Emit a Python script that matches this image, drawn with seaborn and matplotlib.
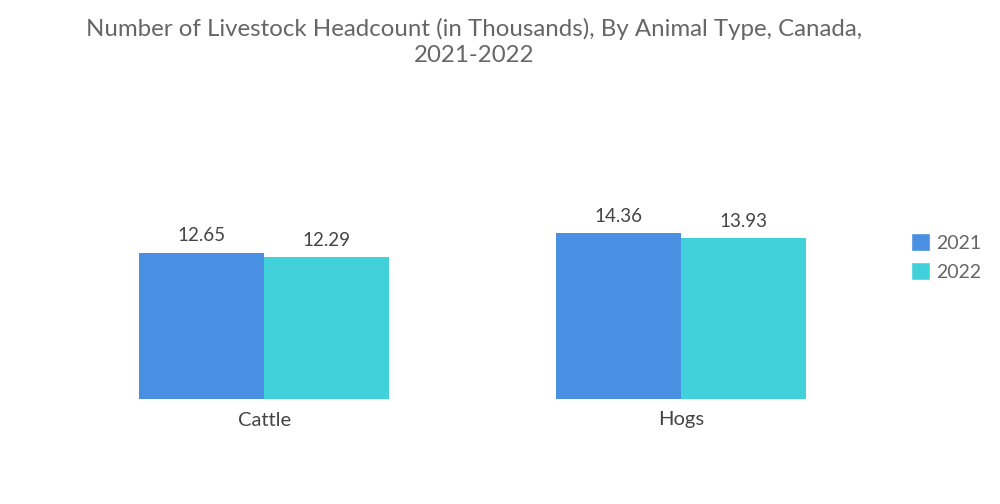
import matplotlib
matplotlib.use("Agg")
import matplotlib.pyplot as plt
import seaborn as sns
import pandas as pd
from matplotlib.patches import Patch

categories = ["Cattle", "Hogs"]
years = ["2021", "2022"]
values_2021 = [12.65, 14.36]
values_2022 = [12.29, 13.93]
colors = ["#4A90E2", "#40D1DA"]

df = pd.DataFrame({
    "Animal": categories * 2,
    "Year": [years[0]] * 2 + [years[1]] * 2,
    "Value": values_2021 + values_2022,
})

sns.set_theme(style="white")
plt.rcParams["font.family"] = ["Lato", "DejaVu Sans"]

fig = plt.figure(figsize=(10, 5.04), dpi=100)
ax = fig.add_axes([0.056, 1 - 399 / 504, 0.833, (399 - 110) / 504])
sns.barplot(data=df, x="Animal", y="Value", hue="Year", palette=colors,
            width=0.6, ax=ax, legend=False, saturation=1, linewidth=0)
ax.set_xlim(-0.5, 1.5)
ax.set_ylim(0, 25.0)
for c in ax.containers:
    ax.bar_label(c, labels=[f"{v:.2f}" for v in c.datavalues], padding=6,
                 fontsize=13.5, color="#444444")
for s in ax.spines.values():
    s.set_visible(False)
ax.set_yticks([])
ax.set_xlabel("")
ax.set_ylabel("")
ax.tick_params(axis="x", length=0, pad=9, labelsize=14.5, labelcolor="#444444")

fig.text(0.474, 0.965, "Number of Livestock Headcount (in Thousands), By Animal Type, Canada,\n2021-2022",
         ha="center", va="top", fontsize=17.3, color="#666666", linespacing=1.3)

handles = [Patch(facecolor=colors[i], label=years[i]) for i in range(2)]
fig.legend(handles=handles, loc="center left", bbox_to_anchor=(0.893, 0.49),
           frameon=False, fontsize=14, handlelength=1.0, handleheight=1.0,
           handletextpad=0.3, labelspacing=0.55, labelcolor="#666666")

fig.savefig("out.png", dpi=100)
